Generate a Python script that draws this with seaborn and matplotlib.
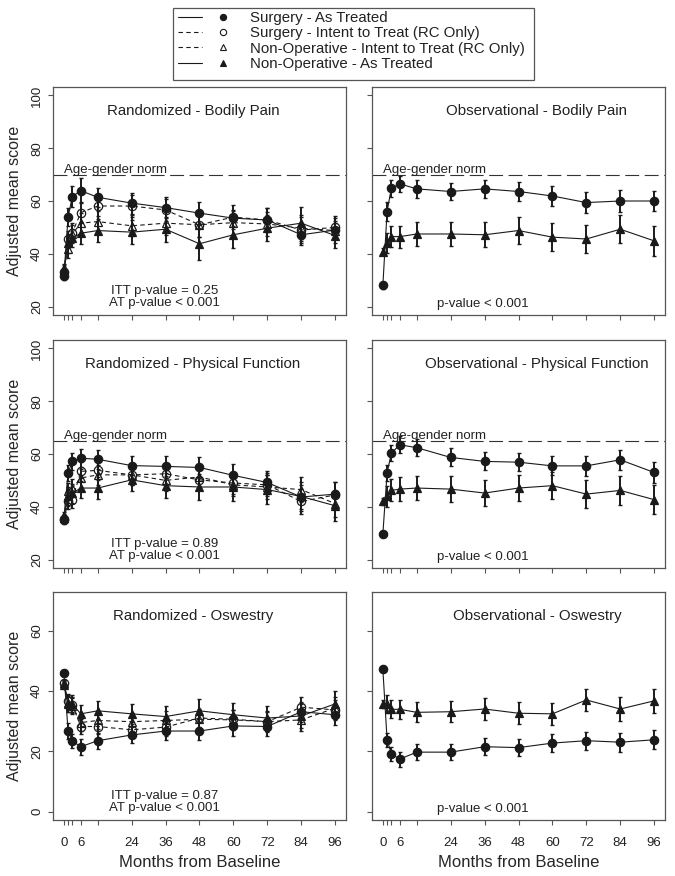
import matplotlib
matplotlib.use("Agg")
import matplotlib.pyplot as plt
from matplotlib.lines import Line2D
from matplotlib.patches import Rectangle
from matplotlib.legend_handler import HandlerTuple
import seaborn as sns

months = [0, 1.5, 3, 6, 12, 24, 36, 48, 60, 72, 84, 96]
tick_months = [0, 1.5, 3, 6, 12, 24, 36, 48, 60, 72, 84, 96]
tick_labels = ["0", "", "", "6", "", "24", "36", "48", "60", "72", "84", "96"]

# Randomized - Bodily Pain
rbp_surg_at = [31.4, 53.9, 61.7, 63.9, 61.4, 59.2, 57.5, 55.4, 53.5, 52.8, 47.2, 49.0]
rbp_surg_itt = [33.0, 45.5, 48.0, 55.6, 58.1, 58.1, 56.6, 51.0, 53.9, 52.8, 49.0, 50.0]
rbp_non_itt = [34.5, 41.7, 47.5, 51.6, 52.2, 50.6, 51.6, 51.0, 51.8, 51.3, 49.7, 48.8]
rbp_non_at = [33.9, 44.0, 45.9, 47.8, 48.8, 48.2, 49.3, 43.8, 47.2, 49.7, 51.6, 46.9]
rbp_surg_at_err = [1.5, 3.4, 3.8, 4.7, 3.7, 4.0, 4.0, 4.4, 3.0, 4.6, 4.0, 3.5]
rbp_surg_itt_err = [1.6, 3.2, 3.6, 3.9, 3.8, 4.1, 4.2, 4.6, 4.4, 4.7, 4.8, 4.5]
rbp_non_itt_err = [1.6, 3.3, 3.4, 3.8, 3.9, 4.0, 4.3, 4.5, 4.6, 4.5, 4.9, 4.6]
rbp_non_at_err = [1.8, 3.6, 3.5, 4.2, 4.5, 4.6, 4.8, 6.0, 5.0, 5.0, 6.0, 4.7]

# Observational - Bodily Pain
obp_surg = [28.0, 56.0, 64.8, 66.5, 64.6, 63.6, 64.6, 63.6, 61.9, 59.4, 60.0, 60.0]
obp_non = [40.8, 44.0, 46.5, 46.5, 47.5, 47.5, 47.2, 48.8, 46.3, 45.6, 49.3, 44.9]
obp_surg_err = [1.2, 3.5, 3.2, 3.0, 3.3, 3.2, 3.4, 3.5, 3.8, 4.0, 4.0, 3.9]
obp_non_err = [1.4, 3.8, 4.0, 4.2, 4.5, 4.6, 4.8, 5.0, 5.2, 5.4, 5.4, 5.7]

# Randomized - Physical Function
rpf_surg_at = [35.5, 52.8, 57.2, 58.4, 58.0, 55.6, 55.3, 54.9, 51.9, 49.2, 43.7, 44.8]
rpf_surg_itt = [35.0, 42.0, 42.7, 53.4, 53.8, 52.1, 52.5, 50.2, 49.0, 48.3, 42.0, 44.5]
rpf_non_itt = [35.8, 45.8, 47.1, 50.9, 52.1, 52.1, 50.0, 51.3, 48.3, 47.5, 46.5, 41.2]
rpf_non_at = [36.4, 43.9, 45.2, 47.1, 47.1, 50.2, 48.0, 47.5, 47.5, 46.5, 43.9, 40.4]
rpf_surg_at_err = [1.5, 3.0, 3.3, 3.5, 3.6, 3.6, 3.8, 3.9, 4.2, 4.4, 4.5, 4.6]
rpf_surg_itt_err = [1.5, 3.0, 3.2, 3.5, 3.5, 3.7, 3.8, 4.0, 4.2, 4.4, 4.6, 4.7]
rpf_non_itt_err = [1.6, 3.2, 3.3, 3.6, 3.7, 3.8, 4.0, 4.1, 4.4, 4.6, 4.8, 4.9]
rpf_non_at_err = [1.8, 3.5, 3.6, 3.9, 4.2, 4.4, 4.8, 5.0, 5.2, 5.4, 5.6, 5.8]

# Observational - Physical Function
opf_surg = [29.7, 52.8, 60.3, 63.5, 62.4, 58.7, 57.2, 56.9, 55.5, 55.5, 57.8, 53.0]
opf_non = [42.0, 43.9, 46.2, 46.7, 47.1, 46.7, 45.2, 47.1, 48.0, 44.8, 46.2, 42.7]
opf_surg_err = [1.2, 3.0, 3.0, 3.2, 3.2, 3.4, 3.4, 3.5, 3.6, 3.8, 3.8, 4.0]
opf_non_err = [1.5, 4.0, 4.2, 4.4, 4.5, 4.8, 5.0, 5.0, 5.2, 5.4, 5.5, 5.6]

# Randomized - Oswestry
rodi_surg_at = [46.1, 26.7, 23.4, 21.5, 23.5, 25.4, 26.7, 26.7, 28.4, 28.2, 33.1, 32.1]
rodi_surg_itt = [42.6, 36.5, 35.4, 28.2, 28.2, 27.1, 28.0, 31.0, 30.6, 29.8, 34.6, 33.7]
rodi_non_itt = [42.6, 35.7, 35.0, 29.5, 30.2, 29.8, 30.2, 30.6, 30.4, 29.8, 30.4, 34.3]
rodi_non_at = [42.0, 35.9, 35.6, 32.4, 33.4, 32.4, 31.5, 33.4, 32.1, 31.0, 31.7, 35.7]
rodi_surg_at_err = [1.0, 2.5, 2.4, 2.6, 2.7, 2.8, 2.9, 3.0, 3.2, 3.3, 3.3, 3.5]
rodi_surg_itt_err = [1.0, 2.4, 2.5, 2.6, 2.6, 2.7, 2.8, 3.0, 3.1, 3.2, 3.3, 3.4]
rodi_non_itt_err = [1.1, 2.6, 2.6, 2.8, 2.9, 3.0, 3.1, 3.2, 3.4, 3.5, 3.6, 3.7]
rodi_non_at_err = [1.2, 2.8, 2.9, 3.0, 3.2, 3.4, 3.6, 3.8, 3.9, 4.0, 4.1, 4.4]

# Observational - Oswestry
oodi_surg = [47.2, 23.8, 19.1, 17.4, 19.7, 19.7, 21.5, 21.2, 22.7, 23.5, 23.0, 23.8]
oodi_non = [35.7, 35.7, 33.9, 33.9, 32.9, 33.1, 34.0, 32.6, 32.4, 37.0, 34.0, 36.7]
oodi_surg_err = [1.0, 2.4, 2.3, 2.5, 2.6, 2.7, 2.8, 2.8, 3.0, 3.0, 3.1, 3.2]
oodi_non_err = [1.3, 3.0, 3.0, 3.2, 3.3, 3.4, 3.5, 3.6, 3.7, 3.8, 3.9, 4.0]

panel_titles = ["Randomized - Bodily Pain", "Observational - Bodily Pain",
                "Randomized - Physical Function", "Observational - Physical Function",
                "Randomized - Oswestry", "Observational - Oswestry"]
norms = [70, 70, 65, 65, None, None]
itt_p = ["0.25", "0.89", "0.87"]

legend_labels = ["Surgery - As Treated", "Surgery - Intent to Treat (RC Only)",
                 "Non-Operative - Intent to Treat (RC Only)", "Non-Operative - As Treated"]

INK = "#1a1a1a"
FRAME = "#555555"
DASH = (0, (4, 3))

styles = {
    "surg_at": dict(marker="o", mfc=INK, ls="-"),
    "surg_itt": dict(marker="o", mfc="none", ls=DASH),
    "non_itt": dict(marker="^", mfc="none", ls=DASH),
    "non_at": dict(marker="^", mfc=INK, ls="-"),
}

sns.set_theme(style="ticks")
plt.rcParams["font.family"] = ["Liberation Sans", "DejaVu Sans"]
plt.rcParams["text.color"] = "#222222"


def draw_series(ax, vals, err, kind):
    st = styles[kind]
    ax.errorbar(months, vals, yerr=err, fmt="none", ecolor=INK, elinewidth=1.4,
                capsize=1.3, capthick=1.0, zorder=2)
    ms = 6.0 if st["marker"] == "o" else 6.2
    sns.lineplot(x=months, y=vals, ax=ax, color=INK, lw=0.8, linestyle=st["ls"],
                 marker=st["marker"], markersize=ms, markerfacecolor=st["mfc"],
                 markeredgecolor=INK, markeredgewidth=0.9, zorder=3)


fig = plt.figure(figsize=(6.75, 8.76), dpi=100)
W, H = 675, 876
col_x = [53, 372]
row_top = [87, 340, 592]
pw, ph = 293, 228

panels = [
    [(rbp_non_itt, rbp_non_itt_err, "non_itt"), (rbp_surg_itt, rbp_surg_itt_err, "surg_itt"),
     (rbp_non_at, rbp_non_at_err, "non_at"), (rbp_surg_at, rbp_surg_at_err, "surg_at")],
    [(obp_non, obp_non_err, "non_at"), (obp_surg, obp_surg_err, "surg_at")],
    [(rpf_non_itt, rpf_non_itt_err, "non_itt"), (rpf_surg_itt, rpf_surg_itt_err, "surg_itt"),
     (rpf_non_at, rpf_non_at_err, "non_at"), (rpf_surg_at, rpf_surg_at_err, "surg_at")],
    [(opf_non, opf_non_err, "non_at"), (opf_surg, opf_surg_err, "surg_at")],
    [(rodi_non_itt, rodi_non_itt_err, "non_itt"), (rodi_surg_itt, rodi_surg_itt_err, "surg_itt"),
     (rodi_non_at, rodi_non_at_err, "non_at"), (rodi_surg_at, rodi_surg_at_err, "surg_at")],
    [(oodi_non, oodi_non_err, "non_at"), (oodi_surg, oodi_surg_err, "surg_at")],
]

for i, series in enumerate(panels):
    r, c = divmod(i, 2)
    ax = fig.add_axes([col_x[c] / W, 1 - (row_top[r] + ph) / H, pw / W, ph / H])
    for vals, err, kind in series:
        draw_series(ax, vals, err, kind)

    ax.set_xlim(-3.84, 99.84)
    if r < 2:
        ax.set_ylim(16.8, 103.2)
        ax.set_yticks([20, 40, 60, 80, 100])
    else:
        ax.set_ylim(-2.8, 72.8)
        ax.set_yticks([0, 20, 40, 60])
    ax.set_xticks(tick_months)
    ax.set_xticklabels(tick_labels if r == 2 else [""] * len(tick_months))
    if c == 1:
        ax.set_yticklabels([])
    for sp in ax.spines.values():
        sp.set_visible(True)
        sp.set_color(FRAME)
        sp.set_linewidth(0.9)
    ax.tick_params(direction="out", length=3.6, width=0.8, color=FRAME,
                   labelsize=9.5, labelcolor="#222222")
    ax.tick_params(axis="x", pad=9)
    ax.tick_params(axis="y", pad=3.5, labelrotation=90)
    for lab in ax.get_yticklabels():
        lab.set_va("center")

    title_x = 0.478 if c == 0 else 0.563
    ax.text(title_x, 0.895, panel_titles[i], transform=ax.transAxes, ha="center",
            va="center", fontsize=10.8)

    if norms[i] is not None:
        ax.axhline(norms[i], color="#333333", lw=0.8, linestyle=(0, (12.5, 5)), zorder=1)
        ax.text(0, norms[i] + 0.7, "Age-gender norm", ha="left", va="baseline", fontsize=9.5)

    if c == 0:
        ax.text(0.382, 0.105, "ITT p-value = " + itt_p[r], transform=ax.transAxes,
                ha="center", va="center", fontsize=9.5)
        ax.text(0.382, 0.053, "AT p-value < 0.001", transform=ax.transAxes,
                ha="center", va="center", fontsize=9.5)
        ax.set_ylabel("Adjusted mean score", fontsize=11.5)
        ax.yaxis.set_label_coords(-0.105, 0.5)
    else:
        ax.text(0.379, 0.05, "p-value < 0.001", transform=ax.transAxes,
                ha="center", va="center", fontsize=9.5)
        ax.set_ylabel("")
    if r == 2:
        ax.set_xlabel("Months from Baseline", fontsize=12)
        ax.xaxis.set_label_coords(0.5, -0.155)
        ax.xaxis.label.set_va("top")
    else:
        ax.set_xlabel("")

handles = []
for kind in ["surg_at", "surg_itt", "non_itt", "non_at"]:
    st = styles[kind]
    ln = Line2D([], [], color=INK, lw=0.8, linestyle=st["ls"])
    mk = Line2D([], [], ls="none", marker=st["marker"], markersize=4.5,
                markerfacecolor=st["mfc"], markeredgecolor=INK, markeredgewidth=0.8)
    handles.append((ln, mk))

leg = fig.legend(handles, legend_labels, loc="upper left",
                 bbox_to_anchor=(173 / W, 1 - 6 / H), borderaxespad=0,
                 frameon=False, fontsize=10.8, handlelength=3.8, handletextpad=1.0,
                 labelspacing=0.08, borderpad=0.35,
                 handler_map={tuple: HandlerTuple(ndivide=None, pad=0.6)})

# legend box is taller than its four rows, as in the reference
fig.canvas.draw()
bb = leg.get_window_extent()
box_top, box_bottom = 8, 80
fig.patches.append(Rectangle((173 / W, 1 - box_bottom / H), (bb.x1 + 4 - 173) / W,
                             (box_bottom - box_top) / H, transform=fig.transFigure,
                             fill=False, edgecolor=FRAME, linewidth=0.9))

fig.savefig("out.png", dpi=100)
